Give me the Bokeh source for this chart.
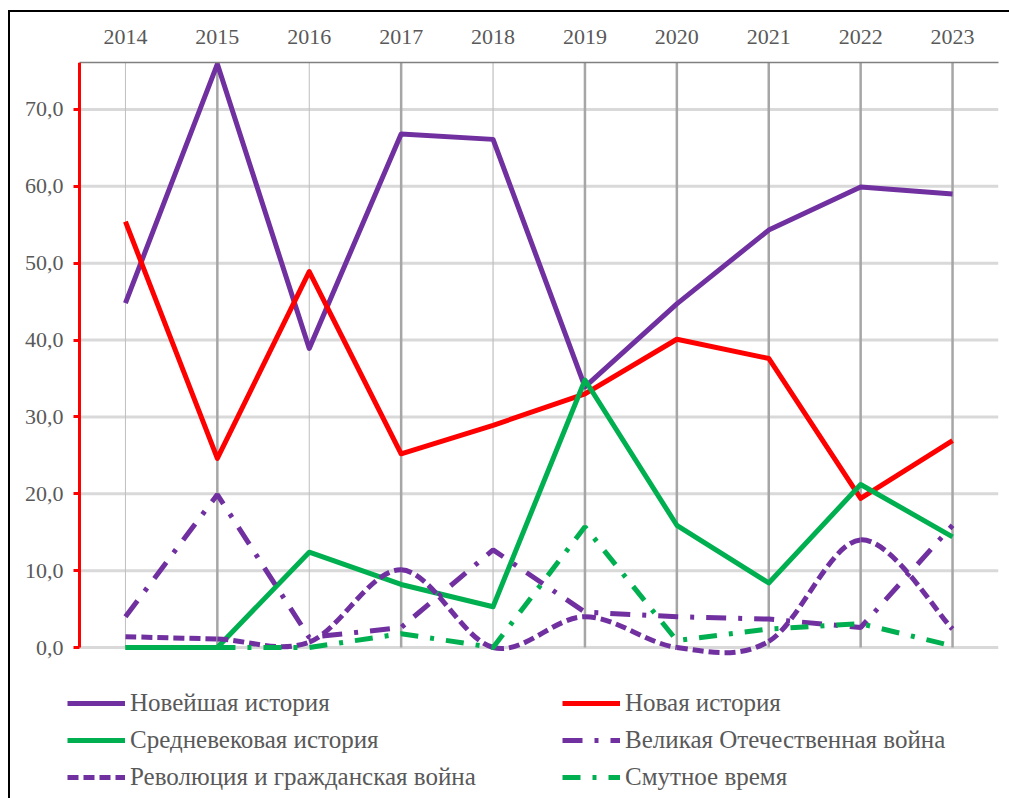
from bokeh.plotting import figure
from bokeh.models import (Range1d, FixedTicker, Legend, LegendItem, ColumnDataSource,
                          InlineStyleSheet)
from bokeh.embed import file_html
from bokeh.resources import INLINE

years = ["2014", "2015", "2016", "2017", "2018", "2019", "2020", "2021", "2022", "2023"]
noveishaya = [44.8, 75.9, 38.9, 66.8, 66.1, 33.9, 44.7, 54.3, 59.9, 59.0]
novaya = [55.4, 24.6, 48.9, 25.2, 28.9, 33.0, 40.1, 37.6, 19.4, 26.9]
srednevekovaya = [0.0, 0.0, 12.4, 8.2, 5.3, 34.8, 15.9, 8.4, 21.2, 14.4]
vov = [4.0, 19.9, 1.3, 2.6, 12.7, 4.6, 4.0, 3.7, 2.6, 15.9]
revolution = [1.4, 1.1, 0.7, 10.1, 0.0, 4.0, 0.0, 0.8, 14.0, 2.4]
smuta = [0.0, 0.0, 0.0, 1.8, 0.0, 15.7, 0.9, 2.4, 3.1, 0.2]
y_ticks = [0, 10, 20, 30, 40, 50, 60, 70]

names = ["Новейшая история", "Новая история", "Средневековая история",
         "Великая Отечественная война", "Революция и гражданская война", "Смутное время"]

PURPLE = "#7030A0"
RED = "#FF0000"
GREEN = "#00B050"
TXT = "#595959"
FONT = "Liberation Serif"

W, H = 1009, 798
FRAME_L, FRAME_R, FRAME_T = 12, 998, 62     # canvas px of the drawing frame
AXIS_X, ZERO_Y = 79, 647                    # canvas px of the value axis and of y = 0
LEGEND_X = 67                               # canvas px where the legend starts
Y_MAX = 76.1
n = len(years)
idx = list(range(n))
x_lo, x_hi = -0.5, n - 0.5
px_per_cat = (FRAME_R - AXIS_X) / (x_hi - x_lo)
x_start = x_lo - (AXIS_X - FRAME_L) / px_per_cat
px_per_unit = (ZERO_Y - FRAME_T) / Y_MAX
y_start = -(H - ZERO_Y) / px_per_unit

p = figure(width=W, height=H, output_backend="svg", toolbar_location=None,
           x_axis_location="above",
           x_range=Range1d(x_start, x_hi), y_range=Range1d(y_start, Y_MAX),
           min_border_left=FRAME_L, min_border_right=W - FRAME_R,
           min_border_top=FRAME_T, min_border_bottom=0)
p.outline_line_color = None
p.background_fill_color = "white"
p.border_fill_color = "white"

# chart-area border (left and top edges visible, the rest runs off the page)
p.stylesheets = [InlineStyleSheet(css="""
:host { position: relative; }
:host::after { content: ''; position: absolute; left: 8px; top: 10px; right: -12px; bottom: -12px;
  border: 2px solid #000; pointer-events: none; box-sizing: border-box; }
""")]

# X axis (top)
xa = p.xaxis[0]
xa.ticker = FixedTicker(ticks=idx)
xa.bounds = (x_lo, x_hi)
xa.major_label_overrides = {i: y for i, y in zip(idx, years)}
xa.axis_line_color = "#808080"
xa.axis_line_width = 1.5
xa.major_tick_line_color = None
xa.minor_tick_line_color = None
xa.major_label_standoff = 13
xa.major_label_text_font = FONT
xa.major_label_text_font_size = "22px"
xa.major_label_text_color = TXT

# Y axis (left, red)
ya = p.yaxis[0]
ya.fixed_location = x_lo
ya.ticker = FixedTicker(ticks=y_ticks)
ya.bounds = (0, Y_MAX)
ya.major_label_overrides = {v: f"{v:.1f}".replace(".", ",") for v in y_ticks}
ya.axis_line_color = RED
ya.axis_line_width = 3
ya.major_tick_line_color = RED
ya.major_tick_line_width = 3
ya.major_tick_out = 6
ya.major_tick_in = 0
ya.minor_tick_line_color = None
ya.major_label_standoff = 10
ya.major_label_text_font = FONT
ya.major_label_text_font_size = "22px"
ya.major_label_text_color = TXT

p.xgrid.grid_line_color = None
p.ygrid.grid_line_color = None

# gridlines, limited to the plot area
p.segment(x0=[x_lo] * len(y_ticks), y0=y_ticks, x1=[x_hi] * len(y_ticks), y1=y_ticks,
          line_color="#d9d9d9", line_width=3)
vg_widths = [1, 2.5, 1, 2.5, 1.2, 2.5, 2.5, 2.5, 2.5, 2.5]
vg_colors = ["#bfbfbf", "#a6a6a6", "#bfbfbf", "#a6a6a6", "#bfbfbf",
             "#a6a6a6", "#a6a6a6", "#a6a6a6", "#a6a6a6", "#a6a6a6"]
p.segment(x0=idx, y0=[0] * n, x1=idx, y1=[Y_MAX] * n,
          line_color=vg_colors, line_width=vg_widths)

r1 = p.line(idx, noveishaya, line_color=PURPLE, line_width=5, line_join="round")
r2 = p.line(idx, novaya, line_color=RED, line_width=5, line_join="round")
r3 = p.line(idx, srednevekovaya, line_color=GREEN, line_width=5, line_join="round")
r4 = p.line(idx, vov, line_color=PURPLE, line_width=5, line_dash="20 12 4 12")

# smoothed (Excel-like) curve for the revolution series
def smooth_segments(xs, ys):
    m = len(xs)
    d = dict(x0=[], y0=[], x1=[], y1=[], cx0=[], cy0=[], cx1=[], cy1=[])
    for i in range(m - 1):
        xm, ym = (xs[i - 1], ys[i - 1]) if i > 0 else (xs[i], ys[i])
        xp, yp = (xs[i + 2], ys[i + 2]) if i + 2 < m else (xs[i + 1], ys[i + 1])
        d["x0"].append(xs[i]); d["y0"].append(ys[i])
        d["x1"].append(xs[i + 1]); d["y1"].append(ys[i + 1])
        d["cx0"].append(xs[i] + (xs[i + 1] - xm) / 6)
        d["cy0"].append(ys[i] + (ys[i + 1] - ym) / 6)
        d["cx1"].append(xs[i + 1] - (xp - xs[i]) / 6)
        d["cy1"].append(ys[i + 1] - (yp - ys[i]) / 6)
    return ColumnDataSource(d)

r5 = p.bezier(x0="x0", y0="y0", x1="x1", y1="y1", cx0="cx0", cy0="cy0", cx1="cx1", cy1="cy1",
              source=smooth_segments(idx, revolution), line_color=PURPLE, line_width=5,
              line_dash="11 5")
r6 = p.line(idx, smuta, line_color=GREEN, line_width=5, line_dash="18 12 4 12")

legend = Legend(items=[
    LegendItem(label=names[0], renderers=[r1]),
    LegendItem(label=names[1], renderers=[r2]),
    LegendItem(label=names[2], renderers=[r3]),
    LegendItem(label=names[3], renderers=[r4]),
    LegendItem(label=names[4], renderers=[r5]),
    LegendItem(label=names[5], renderers=[r6]),
], location=(LEGEND_X - FRAME_L, 6), orientation="horizontal", ncols=2)
legend.padding = 0
legend.margin = 0
legend.spacing = 7
legend.glyph_width = 58
legend.glyph_height = 30
legend.label_height = 30
legend.label_width = 425
legend.label_standoff = 5
legend.label_text_font = FONT
legend.label_text_font_size = "25px"
legend.label_text_color = TXT
legend.border_line_alpha = 0
legend.background_fill_alpha = 0
p.add_layout(legend, "center")

open("out.html", "w").write(file_html(p, INLINE))
